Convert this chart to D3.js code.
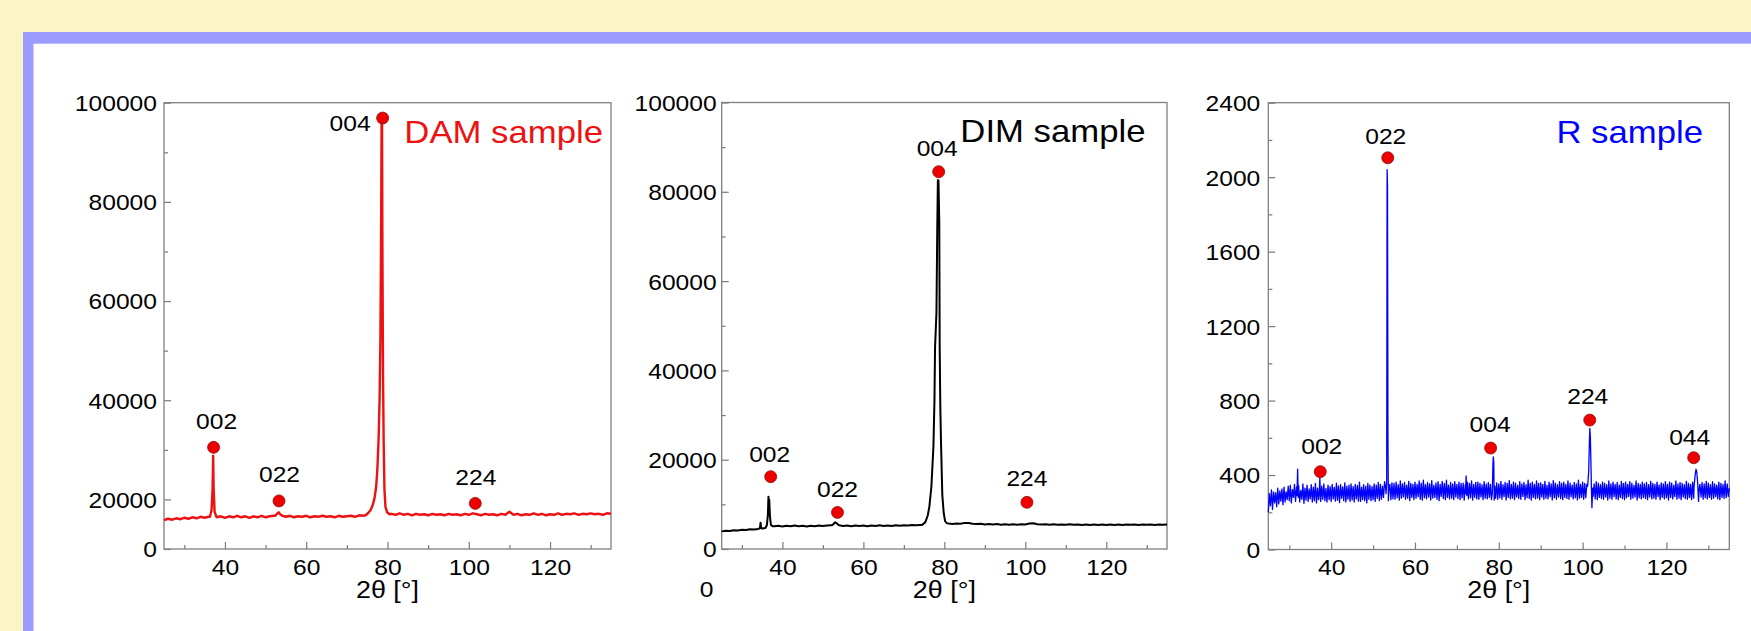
<!DOCTYPE html>
<html><head><meta charset="utf-8">
<script src="https://cdn.jsdelivr.net/npm/d3@7"></script>
<style>html,body{margin:0;padding:0;background:#fbf4c4;overflow:hidden}svg{display:block}text{font-family:"Liberation Sans",Arial,sans-serif}</style>
</head><body><svg id="c" width="1751" height="631"></svg>
<script>
// ---------------- DATA ----------------
const xDomain = [25, 135];
const xTicks = [40, 60, 80, 100, 120];
const xMinorTicks = [30, 50, 70, 90, 110, 130];
const xTitle = "2θ [°]";
const sampleNames = ["DAM sample", "DIM sample", "R sample"];
const scanStart = 25;

// DAM sample (red)
const damDomain = [10000, 100000];
const damTicks = [10000, 20000, 40000, 60000, 80000, 100000];
const damTickLabels = ["0", "20000", "40000", "60000", "80000", "100000"];
const damMinor = [30000, 50000, 70000, 90000];
const damStep = 1;
const damBaseline = [
  15800,16100,15900,16200,16000,16300,16100,16400,16200,16500,
  16300,16500,16400,16400,16600,16300,16600,16400,16700,16400,
  16600,16300,16600,16400,16700,16400,16600,16700,17000,16800,
  16500,16700,16400,16600,16500,16700,16400,16600,16500,16700,
  16500,16600,16400,16700,16500,16600,16700,16500,16800,16700,
  17000,18500,24000,40000,25000,17500,17100,16900,17200,16900,
  17100,16800,17100,16900,17000,16800,17100,16900,17000,16800,
  17100,16900,17000,16800,17100,16900,17200,17000,16800,17100,
  16900,17000,16800,17100,16900,17500,16900,17100,16800,17000,
  16900,17200,16900,17100,16800,17000,16900,17200,16900,17100,
  17000,17200,16900,17100,17000,17200,17000,17100,16900,17200,
  17100];
const damPeakScans = [
  [[36.3,16500],[36.7,17800],[36.95,22000],[37.1,28800],[37.2,22500],[37.45,17500],[37.9,16500]],
  [[52.3,16700],[52.8,17100],[53.2,17400],[53.6,17000],[54.1,16700]],
  [[74.6,16800],[75.2,17200],[75.8,17800],[76.3,18700],[76.8,20200],[77.2,22500],[77.5,26000],[77.8,32000],
   [78.05,40000],[78.25,52000],[78.4,70000],[78.55,96200],[78.65,96200],[78.75,70000],[78.9,45000],
   [79.05,32000],[79.25,22000],[79.5,18500],[79.9,17400],[80.5,17000]]
];
const damPeaks = [["002",37.2,30500],["022",53.3,19700],["004",78.8,96900],["224",101.6,19200]];

// DIM sample (black)
const dimDomain = [0, 100000];
const dimTicks = [0, 20000, 40000, 60000, 80000, 100000];
const dimTickLabels = ["0", "20000", "40000", "60000", "80000", "100000"];
const dimMinor = [10000, 30000, 50000, 70000, 90000];
const dimStep = 1;
const dimBaseline = [
  3950,4100,4050,4200,4150,4300,4250,4400,4350,4500,
  4600,4650,4700,5100,5200,5050,5200,5100,5250,5100,
  5200,5050,5200,5100,5250,5150,5250,5300,5700,5300,
  5150,5250,5100,5250,5150,5250,5100,5250,5150,5300,
  5150,5250,5150,5300,5200,5300,5250,5350,5300,5400,
  6000,9000,20000,40000,25000,6500,5700,5600,5700,5650,
  5850,5800,5650,5600,5650,5500,5600,5500,5600,5450,
  5550,5450,5550,5450,5550,5500,5700,5750,5550,5500,
  5550,5450,5550,5450,5500,5450,5550,5450,5500,5400,
  5500,5400,5500,5400,5500,5400,5500,5400,5500,5400,
  5500,5450,5500,5400,5500,5450,5500,5400,5500,5450,
  5500];
const dimPeakScans = [
  [[34.45,4650],[34.6,5900],[34.75,4700]],
  [[35.8,4700],[36.15,5300],[36.4,7500],[36.55,11700],[36.65,10500],[36.75,11000],[36.9,7500],[37.15,5400],[37.6,5100]],
  [[52.2,5300],[52.7,5650],[53.05,6000],[53.45,5700],[54.0,5300]],
  [[74.5,5400],[75.3,6000],[75.9,7500],[76.3,9500],[76.8,14000],[77.3,22900],[77.55,33000],[77.7,45000],
   [78.05,53000],[78.25,72000],[78.4,82600],[78.55,82600],[78.75,73000],[78.85,45000],[79.0,32000],
   [79.2,22900],[79.5,12000],[79.85,8000],[80.2,6200],[80.6,5800]]
];
const dimPeaks = [["002",37.1,16200],["022",53.6,8200],["004",78.6,84500],["224",100.4,10450]];
const dimStrayLabel = "0";

// R sample (blue), 0.25 deg steps from 25 to 135
const rDomain = [0, 2400];
const rTicks = [0, 400, 800, 1200, 1600, 2000, 2400];
const rTickLabels = ["0", "400", "800", "1200", "1600", "2000", "2400"];
const rMinor = [200, 600, 1000, 1400, 1800, 2200];
const rStep = 0.25;
const rBaseline = [
  200,300,235,320,215,310,250,305,230,330,245,315,260,325,240,335,255,310,268,340,
  262,345,250,322,280,350,258,336,300,342,255,318,270,352,248,330,265,346,258,325,
  272,348,255,335,262,355,250,330,268,345,258,340,270,352,262,328,255,346,268,338,
  258,350,272,334,260,356,265,342,252,348,275,336,262,358,255,340,270,345,258,352,
  266,338,255,350,272,344,260,362,258,335,268,348,262,340,250,355,270,345,262,338,
  268,352,258,345,275,360,262,350,270,340,280,365,330,300,360,275,350,268,358,272,
  355,270,362,278,348,265,368,275,352,282,360,270,345,276,366,262,355,280,350,268,
  362,275,350,284,368,270,356,265,372,278,348,272,360,282,352,266,370,276,345,280,
  358,270,364,262,350,285,366,274,355,268,372,280,346,272,360,276,352,268,365,282,
  350,274,362,268,355,278,356,265,348,285,362,272,355,278,368,266,350,280,360,272,
  362,270,355,282,348,268,365,276,352,272,360,280,350,268,300,300,300,275,358,270,
  352,278,366,270,348,284,360,266,355,280,370,272,350,276,362,268,356,282,345,274,
  364,270,352,285,360,268,348,278,372,274,355,265,362,280,350,272,368,276,355,268,
  358,282,350,270,366,276,345,272,362,284,352,266,370,278,356,270,348,282,364,274,
  355,268,362,280,350,274,368,270,356,284,346,272,360,278,352,266,372,276,350,280,
  362,270,355,278,350,300,300,300,300,300,285,352,272,365,268,356,280,348,274,362,
  270,355,282,348,266,368,276,352,270,362,284,350,272,360,268,346,280,366,274,355,
  268,362,278,350,285,365,270,356,276,345,282,368,266,355,278,350,272,362,280,352,
  274,360,268,348,282,366,272,355,276,350,270,362,284,346,268,358,280,352,272,365,
  278,350,266,362,280,356,272,345,284,368,270,352,276,360,268,355,282,348,274,366,
  270,355,280,350,268,362,276,300,300,300,300,300,350,282,360,270,352,278,366,272,
  356,280,348,270,365,276,352,284,346,272,362,268,355,280,350,274,368,278,352,285,
  330];
const rPeakScans = [
  [[31.85,290],[32.0,432],[32.15,280]],
  [[37.15,300],[37.3,385],[37.45,280]],
  [[53.1,300],[53.25,360],[53.35,2040],[53.45,1950],[53.55,600],[53.65,262],[53.8,340]],
  [[72.05,300],[72.2,395],[72.35,290]],
  [[78.45,300],[78.6,460],[78.7,498],[78.8,470],[78.9,266],[79.05,340]],
  [[101.2,340],[101.45,420],[101.6,560],[101.72,651],[101.85,600],[101.97,480],[102.1,330],[102.22,225],[102.4,330]],
  [[126.6,340],[126.85,400],[127.05,431],[127.25,415],[127.45,360],[127.65,258],[127.85,335]]
];
const rPeaks = [["002",37.4,418],["022",53.5,2104],["004",78.05,545],["224",101.7,695],["044",126.5,493]];

// ---------------- LAYOUT ----------------
const SX = 1.12; // horizontal text stretch of the original
const FONT_TICK = 22, FONT_PEAK = 22, FONT_TITLE = 31, FONT_AXIS = 24;
const panels = [
  {name: sampleNames[0], domain: damDomain, ticks: damTicks, labels: damTickLabels, minor: damMinor,
   step: damStep, base: damBaseline, scans: damPeakScans, peaks: damPeaks,
   left: 164, right: 611, top: 102.7, bottom: 549, gap: 7, titleX: 603, titleY: 142.5,
   color: "#ee1111", titleColor: "#ee1111", width: 2.4,
   nudge: [[3,-18,"middle"],[0.5,-18.4,"middle"],[-12,13,"end"],[0.5,-18.3,"middle"]]},
  {name: sampleNames[1], domain: dimDomain, ticks: dimTicks, labels: dimTickLabels, minor: dimMinor,
   step: dimStep, base: dimBaseline, scans: dimPeakScans, peaks: dimPeaks,
   left: 721.7, right: 1167, top: 102.5, bottom: 549, gap: 5, titleX: 1145.5, titleY: 141.7,
   color: "#000000", titleColor: "#000000", width: 2.0,
   nudge: [[-1,-15,"middle"],[0,-15.6,"middle"],[-1.5,-15.7,"middle"],[0,-16.3,"middle"]]},
  {name: sampleNames[2], domain: rDomain, ticks: rTicks, labels: rTickLabels, minor: rMinor,
   step: rStep, base: rBaseline, scans: rPeakScans, peaks: rPeaks,
   left: 1268.3, right: 1729.3, top: 102.7, bottom: 549.5, gap: 8, titleX: 1703, titleY: 142.7,
   color: "#0000ff", titleColor: "#0000ff", width: 1.3,
   nudge: [[1.5,-17.7,"middle"],[-2,-13.7,"middle"],[-0.6,-16.3,"middle"],[-2,-16,"middle"],[-4,-12.7,"middle"]]}
];

// ---------------- DRAW ----------------
const svg = d3.select("#c");
svg.append("rect").attr("x",0).attr("y",0).attr("width",1751).attr("height",631).attr("fill","#fbf4c4");
svg.append("rect").attr("x",23).attr("y",32).attr("width",1728).attr("height",599).attr("fill","#9c9cfd");
svg.append("rect").attr("x",33.5).attr("y",43.7).attr("width",1751-33.5).attr("height",631-43.7).attr("fill","#ffffff");

function stretchText(g, x, y, str, size, anchor, fill) {
  return g.append("text")
    .attr("transform", `translate(${x},${y}) scale(${SX},1)`)
    .attr("text-anchor", anchor).attr("fill", fill)
    .style("font-size", size + "px").text(str);
}

function buildScan(step, base, scans) {
  const ranges = scans.map(s => [s[0][0], s[s.length - 1][0]]);
  const pts = base.map((v, i) => [scanStart + i * step, v])
    .filter(([a]) => !ranges.some(([lo, hi]) => a >= lo && a <= hi));
  scans.forEach(s => pts.push(...s));
  return pts.sort((a, b) => a[0] - b[0]);
}

panels.forEach(p => {
  const g = svg.append("g");
  const x = d3.scaleLinear().domain(xDomain).range([p.left, p.right]);
  const y = d3.scaleLinear().domain(p.domain).range([p.bottom, p.top]);

  const styleAxis = (ax) => {
    ax.select(".domain").remove();
    ax.selectAll("line").attr("stroke", "#7a7a7a").attr("stroke-width", 1.2);
  };
  const xa = g.append("g").attr("transform", `translate(0,${p.bottom})`)
    .call(d3.axisBottom(x).tickValues(xTicks).tickSize(-7).tickPadding(10).tickFormat(d3.format("d")));
  styleAxis(xa);
  xa.selectAll("text").attr("fill", "#000").style("font-size", FONT_TICK + "px")
    .attr("transform", `scale(${SX},1)`).attr("x", 0);
  const xm = g.append("g").attr("transform", `translate(0,${p.bottom})`)
    .call(d3.axisBottom(x).tickValues(xMinorTicks).tickSize(-4).tickFormat(() => ""));
  styleAxis(xm);

  const ya = g.append("g").attr("transform", `translate(${p.left},0)`)
    .call(d3.axisLeft(y).tickValues(p.ticks).tickSize(-7).tickFormat((d, i) => p.labels[i]));
  styleAxis(ya);
  ya.selectAll("text").attr("fill", "#000").style("font-size", FONT_TICK + "px")
    .attr("x", -p.gap / SX).attr("dy", "0.36em").attr("transform", `scale(${SX},1)`);
  const ym = g.append("g").attr("transform", `translate(${p.left},0)`)
    .call(d3.axisLeft(y).tickValues(p.minor).tickSize(-4).tickFormat(() => ""));
  styleAxis(ym);

  g.append("rect").attr("x", p.left).attr("y", p.top)
    .attr("width", p.right - p.left).attr("height", p.bottom - p.top)
    .attr("fill", "none").attr("stroke", "#7f7f7f").attr("stroke-width", 1.3);

  const pts = buildScan(p.step, p.base, p.scans);
  g.append("path").datum(pts)
    .attr("d", d3.line().x(d => x(d[0])).y(d => y(d[1])))
    .attr("fill", "none").attr("stroke", p.color).attr("stroke-width", p.width)
    .attr("stroke-linejoin", "round");

  p.peaks.forEach((pk, i) => {
    const cx = x(pk[1]), cy = y(pk[2]);
    g.append("circle").attr("cx", cx).attr("cy", cy).attr("r", 6)
      .attr("fill", "#ee0000").attr("stroke", "#8a1010").attr("stroke-width", 0.8);
    const n = p.nudge[i];
    stretchText(g, cx + n[0], cy + n[1], pk[0], FONT_PEAK, n[2], "#000");
  });

  stretchText(g, p.titleX, p.titleY, p.name, FONT_TITLE, "end", p.titleColor);
  stretchText(g, x(80), 598, xTitle, FONT_AXIS, "middle", "#000");
});

stretchText(svg, 706.7, 596.7, dimStrayLabel, 22, "middle", "#000");
</script>
</body></html>
